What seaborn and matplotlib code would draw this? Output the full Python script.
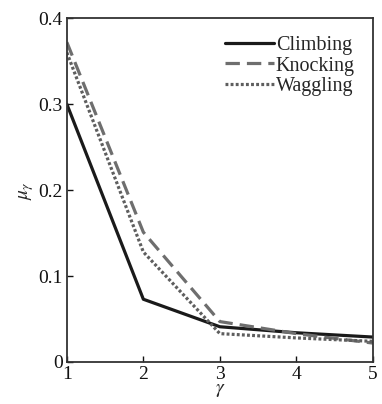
import numpy as np
import pandas as pd
import matplotlib
matplotlib.use('Agg')
import matplotlib.pyplot as plt
import seaborn as sns

gamma = [1, 2, 3, 4, 5]
climbing = [0.300, 0.073, 0.041, 0.034, 0.029]
knocking = [0.372, 0.151, 0.047, 0.033, 0.022]
waggling = [0.360, 0.128, 0.033, 0.028, 0.024]

sns.set_theme(style='ticks')
plt.rcParams['font.family'] = ['Liberation Serif', 'DejaVu Serif']
plt.rcParams['mathtext.fontset'] = 'stix'

df = pd.DataFrame({
    'gamma': gamma * 3,
    'mu': climbing + knocking + waggling,
    'motion': ['Climbing'] * 5 + ['Knocking'] * 5 + ['Waggling'] * 5,
})

fig = plt.figure(figsize=(3.82, 4.04), dpi=100)
ax = fig.add_axes([0.175, 0.104, 0.801, 0.851])

styles = {'Climbing': ('#1a1a1a', '-'),
          'Knocking': ('#6e6e6e', (0, (4.5, 2.2))),
          'Waggling': ('#5e5e5e', (0, (0.9, 0.7)))}
for name, (col, ls) in styles.items():
    sub = df[df.motion == name]
    sns.lineplot(data=sub, x='gamma', y='mu', ax=ax, color=col, linestyle=ls,
                 linewidth=2.3, label=name)

ax.set_xlim(1, 5)
ax.set_ylim(0, 0.4)
ax.set_xticks([1, 2, 3, 4, 5])
ax.set_yticks([0, 0.1, 0.2, 0.3, 0.4])
ax.set_yticklabels(['0', '0.1', '0.2', '0.3', '0.4'])
ax.tick_params(direction='in', length=4, width=1, labelsize=14, colors='#111111', pad=3)
for s in ax.spines.values():
    s.set_linewidth(1.3)
    s.set_color('#333333')
ax.set_xlabel(r'$\gamma$', fontsize=14, labelpad=-1)
ax.set_ylabel(r'$\mu_\gamma$', fontsize=14, labelpad=2)
leg = ax.legend(loc='upper right', frameon=False, fontsize=14.5, handlelength=2.4,
                handletextpad=0.1, labelspacing=0.05, borderaxespad=0.5)

fig.savefig('out.png', dpi=100)
